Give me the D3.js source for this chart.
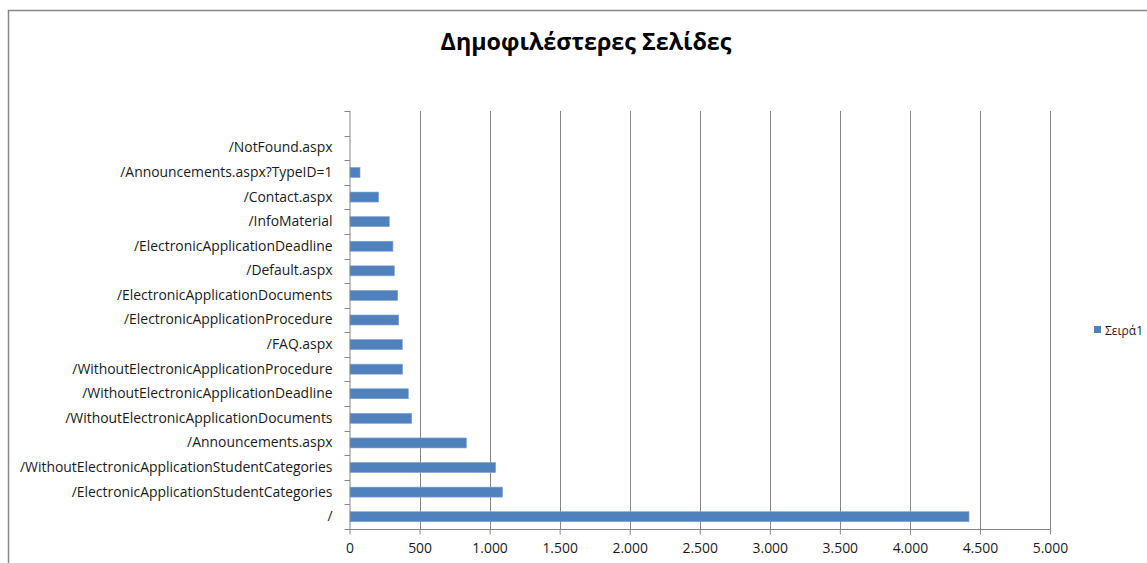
<!DOCTYPE html>
<html><head><meta charset="utf-8">
<script src="https://cdn.jsdelivr.net/npm/d3@7"></script>
<style>body{margin:0;background:#fff}svg{display:block}</style>
</head><body>
<svg id="c" width="1147" height="563"></svg>
<script>
const title = "Δημοφιλέστερες Σελίδες";
const seriesName = "Σειρά1";
// the top row of the original chart is an empty (unlabelled) category
const categories = [
  " ",
  "/NotFound.aspx",
  "/Announcements.aspx?TypeID=1",
  "/Contact.aspx",
  "/InfoMaterial",
  "/ElectronicApplicationDeadline",
  "/Default.aspx",
  "/ElectronicApplicationDocuments",
  "/ElectronicApplicationProcedure",
  "/FAQ.aspx",
  "/WithoutElectronicApplicationProcedure",
  "/WithoutElectronicApplicationDeadline",
  "/WithoutElectronicApplicationDocuments",
  "/Announcements.aspx",
  "/WithoutElectronicApplicationStudentCategories",
  "/ElectronicApplicationStudentCategories",
  "/"
];
const values = [0, 2, 75, 208, 284, 310, 320, 344, 351, 377, 379, 420, 444, 834, 1043, 1093, 4422];
const xTicks = [0, 500, 1000, 1500, 2000, 2500, 3000, 3500, 4000, 4500, 5000];

const svg = d3.select("#c");
const font = "'Open Sans', 'Noto Sans', sans-serif";
const pLeft = 349.5, pRight = 1050, pTop = 111, pBottom = 529;

// chart border
svg.append("rect").attr("x", 8.5).attr("y", 10.5).attr("width", 1160).attr("height", 600)
  .attr("fill", "#fff").attr("stroke", "#868686").attr("stroke-width", 1.5);

const x = d3.scaleLinear().domain([0, 5000]).range([pLeft, pRight]);
const y = d3.scaleBand().domain(categories).range([pTop, pBottom]);

const fmt = v => d3.format(",")(v).replace(/,/g, ".");

// gridlines
svg.append("g").selectAll("line").data(xTicks.slice(1)).join("line")
  .attr("x1", d => Math.round(x(d)) + 0.5).attr("x2", d => Math.round(x(d)) + 0.5)
  .attr("y1", pTop).attr("y2", pBottom)
  .attr("stroke", "#868686").attr("stroke-width", 1);

// bars
svg.append("g").selectAll("rect").data(categories).join("rect")
  .attr("x", x(0) + 0.5)
  .attr("y", (d) => y(d) + y.bandwidth() / 2 - 5)
  .attr("width", (d, i) => Math.max(0, x(values[i]) - x(0) - 0.5))
  .attr("height", 10)
  .attr("fill", "#4F81BD")
  .attr("stroke", "#7FA3D0").attr("stroke-width", 0.6);

// y axis
const yAxis = svg.append("g").attr("transform", `translate(${pLeft},0)`)
  .call(d3.axisLeft(y).tickSize(0).tickPadding(17));
yAxis.select(".domain").attr("stroke", "#868686").attr("d", `M0.5,${pTop}V${pBottom}`);
yAxis.selectAll("text").attr("font-family", font).attr("font-size", 13).attr("fill", "#1a1a1a");
// y tick marks at band boundaries
const bounds = categories.map(c => y(c)).concat([pBottom]);
svg.append("g").selectAll("line").data(bounds).join("line")
  .attr("x1", pLeft - 5).attr("x2", pLeft + 0.5)
  .attr("y1", d => Math.round(d) + 0.5).attr("y2", d => Math.round(d) + 0.5)
  .attr("stroke", "#868686");

// x axis
const xAxis = svg.append("g").attr("transform", `translate(0,${pBottom + 0.5})`)
  .call(d3.axisBottom(x).tickValues(xTicks).tickFormat(fmt).tickSize(5).tickPadding(9));
xAxis.select(".domain").attr("stroke", "#868686").attr("d", `M${pLeft},0H${pRight + 0.5}`);
xAxis.selectAll(".tick line").attr("stroke", "#868686");
xAxis.selectAll("text").attr("font-family", font).attr("font-size", 13).attr("fill", "#1a1a1a");

// fit label font to reference width
const longest = yAxis.selectAll("text").filter(d => d === "/WithoutElectronicApplicationStudentCategories").node();
if (longest) {
  const w = longest.getComputedTextLength();
  const fs = 13 * 313 / w;
  yAxis.selectAll("text").attr("font-size", fs);
  xAxis.selectAll("text").attr("font-size", fs);
}

// title
const t = svg.append("text").attr("x", 586).attr("y", 50).attr("text-anchor", "middle")
  .attr("font-family", font).attr("font-weight", "bold").attr("font-size", 24)
  .attr("fill", "#000").text(title);
const tw = t.node().getComputedTextLength();
t.attr("font-size", 24 * 291 / tw);

// legend
svg.append("rect").attr("x", 1094).attr("y", 326).attr("width", 7).attr("height", 7).attr("fill", "#4F81BD");
svg.append("text").attr("x", 1105).attr("y", 334.5).attr("font-family", font).attr("font-size", 12)
  .attr("fill", "#1a1a1a").text(seriesName);
</script>
</body></html>
